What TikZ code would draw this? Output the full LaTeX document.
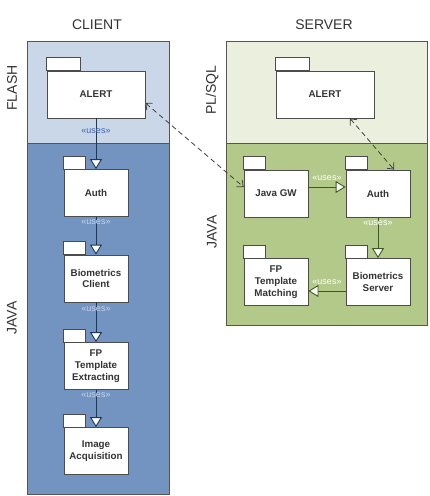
\documentclass[tikz,border=0pt]{standalone}
\usepackage{fontspec}
\setmainfont{Liberation Sans}
\usetikzlibrary{arrows.meta}
\usetikzlibrary{calc}
\definecolor{flashblue}{HTML}{C9D7E9}
\definecolor{javablue}{HTML}{7393C0}
\definecolor{plsqlgreen}{HTML}{EBF0DE}
\definecolor{javagreen}{HTML}{B2C989}
\definecolor{linkblue}{HTML}{1F3656}
\definecolor{linkgreen}{HTML}{3D5A1E}
\definecolor{framegray}{HTML}{555555}
\definecolor{usesdark}{HTML}{3E66A6}
\definecolor{useslight}{HTML}{C4D5EE}
\tikzstyle{layer} = [draw=framegray, line width=0.9pt]
\tikzstyle{pkg} = [draw=black!70, fill=white, line width=0.8pt, minimum width=64pt, minimum height=47pt, align=center, font=\fontsize{9.8}{11.7}\selectfont\bfseries, text=black!80, inner sep=1pt]
\tikzstyle{bigpkg} = [pkg, minimum width=98pt]
\tikzstyle{tab} = [draw=black!70, fill=white, line width=0.8pt]
\tikzstyle{title} = [font=\fontsize{14}{16}\selectfont, text=black!80]
\tikzstyle{side} = [title, rotate=90]
\tikzstyle{uses} = [font=\fontsize{9}{10}\selectfont, inner sep=1pt]
\tikzstyle{usesblue} = [-{Triangle[width=12pt,length=10pt,fill=white]}, draw=linkblue, line width=0.9pt]
\tikzstyle{usesgreen} = [-{Triangle[width=12pt,length=10pt,fill=white]}, draw=linkgreen, line width=0.9pt]
\tikzstyle{call} = [{Straight Barb[length=5pt,width=9pt]}-{Straight Barb[length=5pt,width=9pt]}, dash pattern=on 5pt off 3.5pt, draw=black!75, line width=0.8pt]

\begin{document}
\begin{tikzpicture}[x=1pt, y=-1pt]

  \useasboundingbox (0,0) rectangle (430,496);

  % layers
  \draw[layer, fill=flashblue] (27,41) rectangle (169,143);
  \draw[layer, fill=javablue] (27,143) rectangle (169,494);
  \draw[layer, fill=plsqlgreen] (226,41) rectangle (427,143);
  \draw[layer, fill=javagreen] (226,143) rectangle (427,325);

  \node[title] (client) at (97,25) {CLIENT};
  \node[title] (server) at (324,25) {SERVER};

  \foreach \x/\y/\name/\label in {12/88/lflash/FLASH, 12/318/ljava/JAVA, 212/90/lplsql/{PL/SQL}, 212/232/lsjava/JAVA}
     \node[side] (\name) at (\x,\y) {\label};

  % packages
  \node[bigpkg] (cAlert) at (96,94.5) {ALERT};
  \node[bigpkg] (sAlert) at (325,94.5) {ALERT};

  \foreach \x/\y/\name/\label in {96/193/cAuth/Auth, 96/278.5/cBio/Biometrics\\Client, 96/366/cFP/FP\\Template\\Extracting, 96/451/cImg/Image\\Acquisition,
                                  276/193.5/sGW/Java GW, 378/193.5/sAuth/Auth, 276/282/sFP/FP\\Template\\Matching, 378/282/sBio/Biometrics\\Server}
     \node[pkg] (\name) at (\x,\y) {\label};

  \foreach \n in {cAlert, sAlert, cAuth, cBio, cFP, cImg, sGW, sAuth, sFP, sBio}
     \draw[tab] (\n.north west) rectangle ($(\n.north west)!0.34!(\n.north east)+(0pt,13pt)$);

  % client uses
  \foreach \source/\dest/\p/\col in {cAlert/cAuth/0.25/usesdark, cAuth/cBio/0.15/useslight, cBio/cFP/0.18/useslight, cFP/cImg/0.15/useslight}
     \draw[usesblue] (\source) -- node[uses, pos=\p, text=\col] {«uses»} (\dest);

  % server uses
  \draw[usesgreen] ([yshift=6.5pt]sGW.east) -- node[uses, above=5pt, text=white] {«uses»} ([yshift=6.5pt]sAuth.west);
  \draw[usesgreen] (sAuth) -- node[uses, pos=0.15, text=white] {«uses»} (sBio);
  \draw[usesgreen] ([yshift=-9pt]sBio.west) -- node[uses, above=5pt, text=white] {«uses»} ([yshift=-9pt]sFP.east);

  % calls between client and server
  \draw[call] ([yshift=-8.5pt]cAlert.east) -- ([yshift=6.5pt]sGW.west);
  \draw[call] ([xshift=25pt]sAlert.south) -- ([xshift=16pt]sAuth.north);

\end{tikzpicture}
\end{document}
